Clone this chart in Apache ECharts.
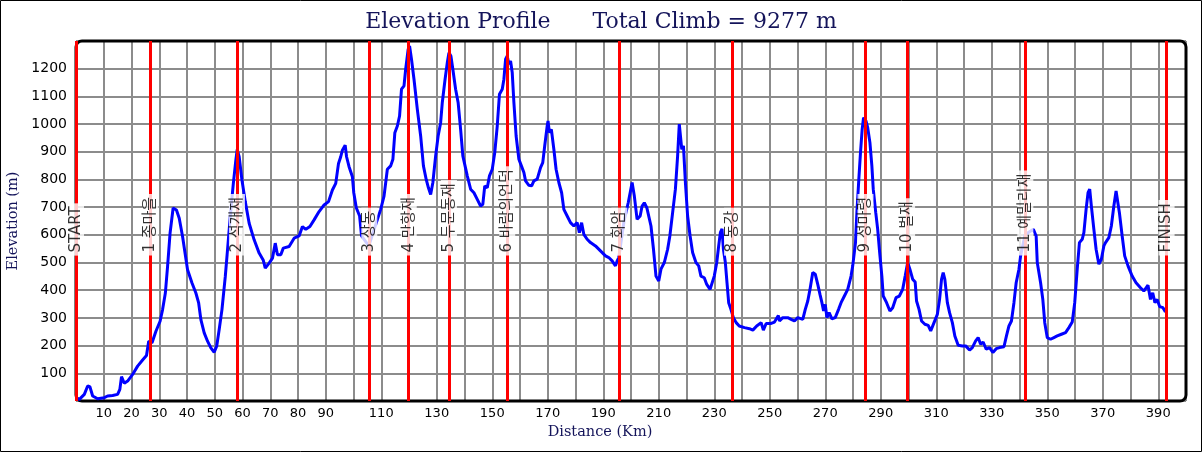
<!DOCTYPE html>
<html><head><meta charset="utf-8">
<script src="https://cdn.jsdelivr.net/npm/echarts/dist/echarts.min.js"></script>
<style>html,body{margin:0;padding:0;background:#fff}#c{width:1202px;height:452px}</style>
</head><body><div id="c"></div>
<script>
const distKm = [0,1.2,3,4.2,5,6,7.8,10.2,11.4,13.2,15,15.8,16.4,17.4,18.6,20.4,22.2,24,25.4,26.2,27.4,28.8,30.3,31.2,32.2,33,33.9,35,36.2,37.2,38.4,40.2,41.8,43.2,44.2,45,46.2,47.4,48.6,49.8,50.7,51.6,52.6,53.8,54.6,55.8,56.7,57.6,58.1,58.8,59.8,61,62.4,64.2,66,67.5,68.2,69.6,70.8,71.8,72.6,73.8,74.7,76.8,78.6,80.4,81.6,82.8,84.3,85.8,87.6,89.4,91,92.4,93.6,94.6,95.4,96,97,97.5,98.4,99.6,100.1,101,102.2,102.9,105.5,109.8,111,112.2,113.4,114.2,114.9,115.8,116.6,117.3,118.2,118.8,119.7,120.2,120.9,121.8,123,124.2,125.2,126.2,127,127.8,128.6,129.6,130.5,131.4,132,133,133.8,134.4,135.1,135.8,136.8,137.7,138.6,139.4,141,142.2,143.4,144.6,145.8,146.6,147.3,148.2,149,150,150.9,151.8,152.6,153.6,154.2,154.8,155.4,156,156.6,157.2,157.8,158.6,159.6,160.5,161.4,162,163.2,164.2,165,166.2,167.4,168.2,168.9,169.8,170.1,170.6,171.3,172.2,173,174,175,175.8,177,178.2,179.4,180.6,181.4,182.2,183,184.2,185.4,187.2,189,190.8,192,193.2,194.4,195,195.6,197.5,199,200.4,201.2,202.2,203.3,204,204.8,205.7,206.4,207.2,208.1,209,210,210.8,212,213.2,214,215,216,216.8,217.4,217.8,218.3,218.9,219.6,220.4,221.3,222.2,223.4,224.4,225.2,226.4,227.3,228.5,229.2,230,230.9,231.6,232.2,232.8,233.3,234,234.6,235.2,236,236.9,237.9,239,240.9,242.7,243.9,245.3,246.9,247.7,248.7,250.5,251.7,253.1,253.5,254.7,256.5,257.7,258.9,260.1,261.9,262.8,263.7,264.5,265.5,266.4,267.3,268.1,268.8,269.4,270,270.6,271.4,272.4,273.6,274.8,275.7,276.9,278.1,279.3,279.9,280.9,281.4,282.1,282.7,283.3,283.8,284.7,285.3,286.1,286.8,287.3,288.2,288.9,289.5,290.4,290.9,292.1,293.3,294.3,295.5,296.7,297.9,298.8,299.7,300.5,301.5,302.4,302.9,303.8,304.7,305.9,307.1,308,309.2,310.4,311.2,311.9,312.5,313.1,314,314.8,315.8,316.7,317.9,319.4,320.6,322,323,324.2,325.1,326,326.9,328,329.2,330.4,331.6,332.8,334.4,335.3,336.2,337.1,338,338.8,339.8,340.4,342,345,346,346.4,347.6,348.4,349.1,350,351.2,352.4,353.6,355.1,356.6,357.8,359,359.9,360.8,361.6,362.6,363.2,364,364.7,365.3,365.9,366.8,367.6,368.6,369.5,370.4,371,372.2,373.1,374,374.8,375.4,376,377,377.9,379.1,380.6,382,383.6,384.8,385.4,386.3,387.2,388,388.8,389.6,390.5,391.7,392.6];
const elevM = [12,6,24,54,52,18,8,12,18,20,24,42,88,64,72,96,126,148,164,216,210,252,288,330,390,486,606,697,690,660,594,474,426,390,354,294,246,216,192,176,198,258,330,450,546,690,786,870,908,882,798,720,642,582,534,508,480,498,516,570,528,528,552,558,588,596,630,620,630,654,684,708,720,762,786,858,882,906,924,882,846,810,752,698,668,596,560,692,740,837,849,873,969,993,1029,1126,1138,1198,1270,1282,1234,1162,1053,957,849,800,770,746,789,885,957,1005,1078,1162,1222,1258,1246,1198,1126,1078,981,885,813,765,752,728,704,710,777,770,813,837,897,993,1108,1126,1162,1234,1246,1216,1228,1186,1078,957,873,849,825,795,779,777,795,801,843,861,921,993,1011,969,981,909,837,789,752,692,668,644,632,644,608,644,602,584,572,560,542,524,518,506,488,506,518,650,716,789,740,656,668,704,716,698,704,632,548,451,433,476,500,548,596,680,765,885,1000,993,909,921,789,668,596,536,500,488,451,445,421,403,401,451,500,560,608,622,548,500,427,355,331,301,283,271,265,261,256,271,283,256,280,280,285,309,289,301,301,295,289,301,295,331,361,403,464,458,421,385,355,325,349,301,319,297,301,331,355,379,403,451,488,572,680,801,897,981,1023,1011,987,933,849,765,680,620,548,451,379,355,325,337,373,379,403,451,500,476,440,430,361,331,289,277,273,253,283,313,367,439,464,439,355,319,283,235,201,199,199,184,193,217,229,205,213,187,193,175,189,193,196,235,271,289,355,427,476,524,600,620,596,500,427,367,283,229,223,229,235,241,247,265,285,355,476,572,584,608,692,752,765,704,620,548,494,512,560,572,590,632,704,758,752,680,596,524,488,451,427,409,397,397,418,367,391,355,367,341,337,321];
const cpNames = ['START','1 종마을','2 석개재','3 상동','4 만항재','5 두문동재','6 바람의언덕','7 화암','8 동강','9 성마령','10 벌재','11 예밀리재','FINISH'];
const cpKm = [0,26.8,58.0,105.7,119.9,134.4,155.4,195.8,236.4,284.5,299.5,342.1,393.0];
const cpLabelElev = 525;
const xTickLabels = [10,20,30,40,50,60,70,80,90,110,130,150,170,190,210,230,250,270,290,310,330,350,370,390];
const titleText = 'Elevation Profile      Total Climb = 9277 m';

const chart = echarts.init(document.getElementById('c'), null, {renderer:'canvas'});
const G = {left:76, top:41, width:1110, height:360};
const navy = '#14145a';
chart.setOption({
  animation:false,
  backgroundColor:'#fff',
  title:{text:titleText,left:'center',top:6,textStyle:{fontFamily:'DejaVu Serif',fontSize:22,fontWeight:'normal',color:navy}},
  grid:{left:G.left,top:G.top,width:G.width,height:G.height,containLabel:false,outerBoundsMode:'none'},
  graphic:[
    {type:'rect',z:100,silent:true,shape:{x:0.5,y:0.5,width:1201,height:451},style:{fill:'none',stroke:'#000',lineWidth:1}},
    {type:'rect',z:1,silent:true,shape:{x:G.left,y:G.top,width:G.width,height:G.height,r:6},style:{fill:'none',stroke:'#000',lineWidth:3}}
  ],
  xAxis:{type:'value',min:0,max:400,interval:10,
    name:'Distance (Km)',nameLocation:'middle',nameGap:24,
    nameTextStyle:{fontFamily:'DejaVu Serif',fontSize:14.5,color:navy,padding:[0,62,0,0]},
    axisLine:{show:false},axisTick:{show:false},
    axisLabel:{margin:6,fontFamily:'DejaVu Sans',fontSize:13,color:'#000',
      formatter:v=>xTickLabels.indexOf(v)>=0?String(v):''},
    splitLine:{show:true,lineStyle:{color:'#8c8c8c',width:2}}},
  yAxis:{type:'value',min:0,max:1300,interval:100,
    name:'Elevation (m)',nameLocation:'middle',nameGap:48,
    nameTextStyle:{fontFamily:'DejaVu Serif',fontSize:14.5,color:navy},
    axisLine:{show:false},axisTick:{show:false},
    axisLabel:{margin:9,fontFamily:'DejaVu Sans',fontSize:14,color:'#000',showMinLabel:false,showMaxLabel:false,
      formatter:v=>String(v)},
    splitLine:{show:true,lineStyle:{color:'#8c8c8c',width:2}}},
  series:[
    {type:'line',z:2,data:[],silent:true,
     markLine:{silent:true,symbol:'none',label:{show:false},lineStyle:{color:'#ff0000',width:3,type:'solid'},
       data:cpKm.map(v=>({xAxis:v}))}},
    {type:'line',z:3,showSymbol:false,silent:true,
     lineStyle:{color:'#0000ff',width:3},
     data:distKm.map((d,i)=>[d,elevM[i]])},
    {type:'scatter',z:5,symbolSize:0,silent:true,
     data:cpKm.map((k,i)=>({value:[k,cpLabelElev],name:cpNames[i]})),
     label:{show:true,position:'inside',rotate:90,align:'left',verticalAlign:'middle',
       formatter:p=>p.name,fontFamily:'DejaVu Sans, Noto Sans CJK KR',fontSize:15,color:'#000',
       backgroundColor:'#fff',padding:[0,3],lineHeight:16}}
  ]
});
</script></body></html>
